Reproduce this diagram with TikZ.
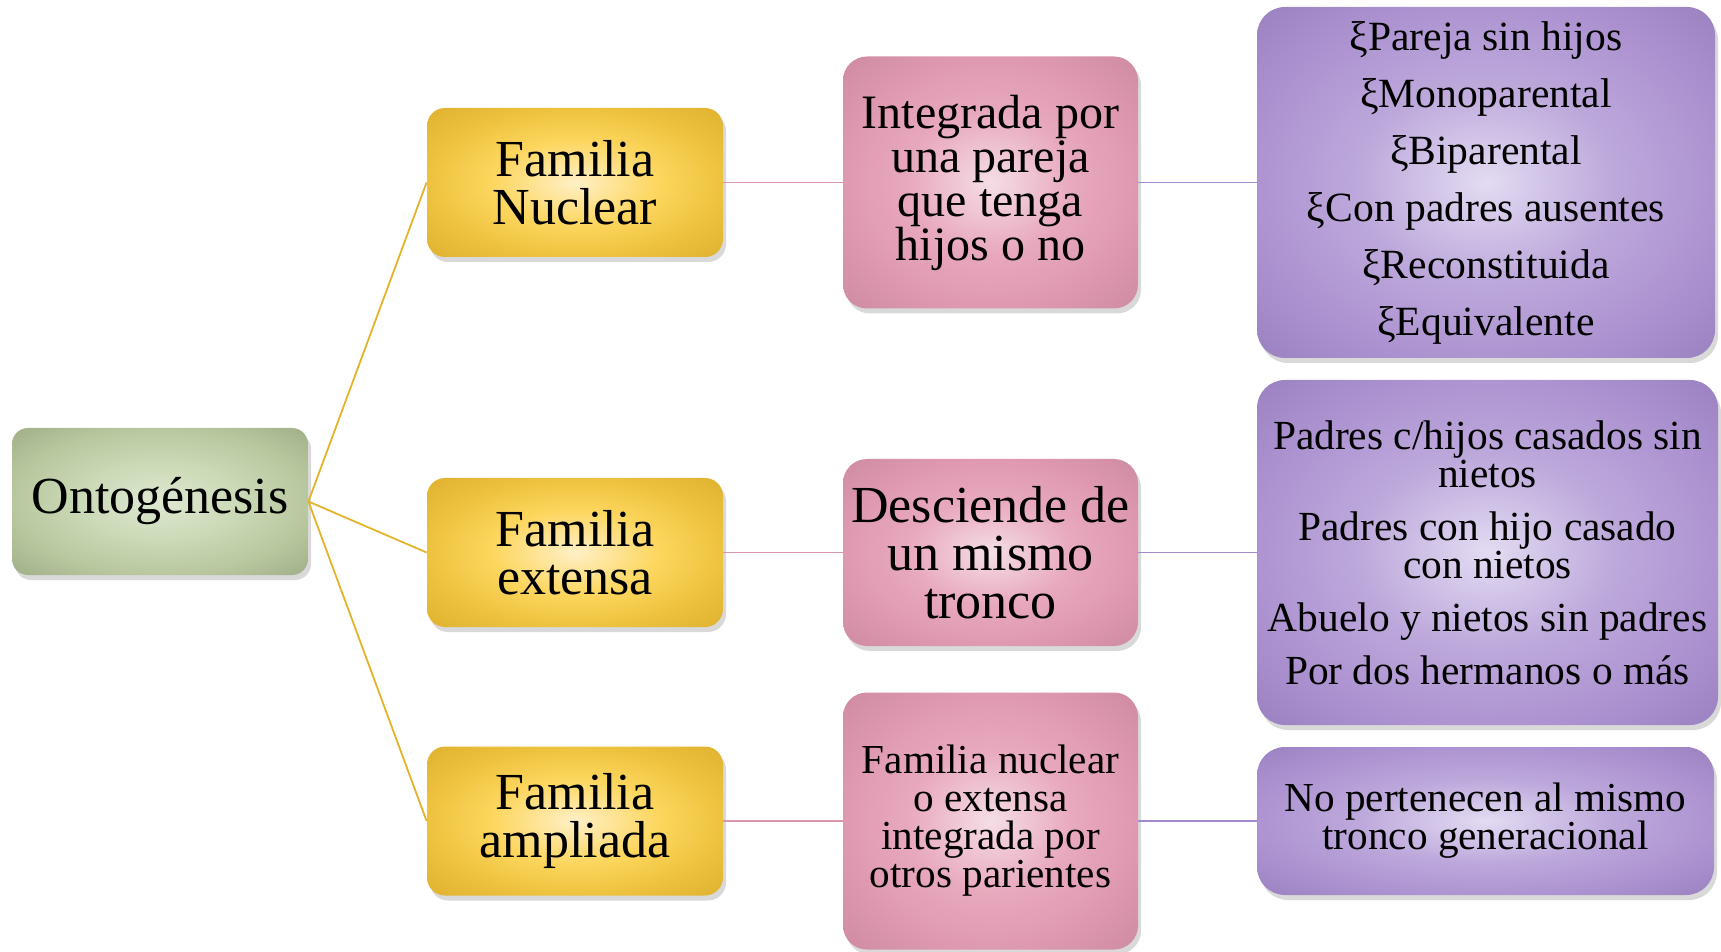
\documentclass[tikz,border=0pt]{standalone}
\usepackage{fontspec}
\setmainfont{Liberation Serif}
\usetikzlibrary{shadows}

\definecolor{lineaAmar}{HTML}{E3B32A}
\definecolor{lineaRosa}{HTML}{D996AE}
\definecolor{lineaMora}{HTML}{A08ACB}

% radial fills: light centre, outer colour only at the corners
\pgfdeclareradialshading{verdeSh}{\pgfpoint{0bp}{0bp}}{rgb(0bp)=(0.87,0.91,0.82);
  rgb(14bp)=(0.79,0.85,0.71); rgb(25bp)=(0.72,0.78,0.62); rgb(36bp)=(0.62,0.68,0.53); rgb(50bp)=(0.62,0.68,0.53)}
\pgfdeclareradialshading{amarSh}{\pgfpoint{0bp}{0bp}}{rgb(0bp)=(1,0.94,0.78);
  rgb(14bp)=(0.99,0.84,0.37); rgb(25bp)=(0.93,0.76,0.24); rgb(36bp)=(0.87,0.69,0.18); rgb(50bp)=(0.87,0.69,0.18)}
\pgfdeclareradialshading{rosaSh}{\pgfpoint{0bp}{0bp}}{rgb(0bp)=(0.96,0.87,0.90);
  rgb(14bp)=(0.91,0.66,0.74); rgb(25bp)=(0.87,0.60,0.69); rgb(36bp)=(0.80,0.54,0.63); rgb(50bp)=(0.80,0.54,0.63)}
\pgfdeclareradialshading{moraSh}{\pgfpoint{0bp}{0bp}}{rgb(0bp)=(0.89,0.86,0.95);
  rgb(14bp)=(0.74,0.66,0.86); rgb(25bp)=(0.68,0.58,0.82); rgb(36bp)=(0.60,0.50,0.75); rgb(50bp)=(0.60,0.50,0.75)}

\tikzset{
  caja/.style={rectangle, align=center, inner sep=0pt,
    drop shadow={shadow xshift=1.5pt, shadow yshift=-2.5pt, opacity=0.3}},
  verde/.style={caja, rounded corners=8pt, shading=verdeSh},
  amarilla/.style={caja, rounded corners=9pt, shading=amarSh,
    minimum width=148pt, minimum height=74.5pt, font=\fontsize{26}{24}\selectfont},
  rosa/.style={caja, rounded corners=12pt, shading=rosaSh, minimum width=147.5pt},
  morada/.style={caja, rounded corners=14pt, shading=moraSh},
}

\begin{document}
\begin{tikzpicture}[x=1pt,y=1pt]
    \useasboundingbox (0,0) rectangle (860.5,-476);

    \node[verde, minimum width=148pt, minimum height=73.5pt,
          font=\fontsize{26}{24}\selectfont] (onto) at (80,-250.75) {Ontogénesis};

    \node[amarilla] (nuclear) at (287.5,-91.25) {Familia\\Nuclear};
    \node[amarilla] (extensa) at (287.5,-276.25) {Familia\\extensa};
    \node[amarilla] (ampliada) at (287.5,-410.5) {Familia\\ampliada};

    \node[rosa, minimum height=126pt, font=\fontsize{24}{22}\selectfont]
        (integrada) at (495.25,-91.25) {Integrada por\\una pareja\\que tenga\\hijos o no};
    \node[rosa, minimum height=93.5pt, font=\fontsize{26}{24}\selectfont]
        (desciende) at (495.25,-276.25) {Desciende de\\un mismo\\tronco};
    \node[rosa, minimum height=128.5pt, font=\fontsize{20.6}{19}\selectfont]
        (parientes) at (495.25,-410.5) {Familia nuclear\\o extensa\\integrada por\\otros parientes};

    \node[morada, minimum width=229pt, minimum height=175.5pt,
          font=\fontsize{20.8}{28.5}\selectfont] (tipos) at (743,-91.25)
        {ξPareja sin hijos\\ξMonoparental\\ξBiparental\\ξCon padres ausentes\\ξReconstituida\\ξEquivalente};
    \node[morada, minimum width=230.5pt, minimum height=172.5pt,
          font=\fontsize{20.7}{19}\selectfont] (extensos) at (743.75,-276.25)
        {Padres c/hijos casados sin\\nietos\\[7.5pt]Padres con hijo casado\\con nietos\\[7.5pt]Abuelo y nietos sin padres\\[7.5pt]Por dos hermanos o más};
    \node[morada, minimum width=228.5pt, minimum height=74pt,
          font=\fontsize{20.6}{19}\selectfont] (tronco) at (742.75,-410.5)
        {No pertenecen al mismo\\tronco generacional};

    \draw[lineaAmar, line width=0.9pt] (onto.east) -- (nuclear.west);
    \draw[lineaAmar, line width=0.9pt] (onto.east) -- (extensa.west);
    \draw[lineaAmar, line width=0.9pt] (onto.east) -- (ampliada.west);

    \draw[lineaRosa, line width=0.8pt] (nuclear) -- (integrada);
    \draw[lineaRosa, line width=0.8pt] (extensa) -- (desciende);
    \draw[lineaRosa, line width=0.8pt] (ampliada) -- (parientes);

    \draw[lineaMora, line width=0.8pt] (integrada) -- (tipos);
    \draw[lineaMora, line width=0.8pt] (desciende) -- (extensos);
    \draw[lineaMora, line width=0.8pt] (parientes) -- (tronco);
\end{tikzpicture}
\end{document}
